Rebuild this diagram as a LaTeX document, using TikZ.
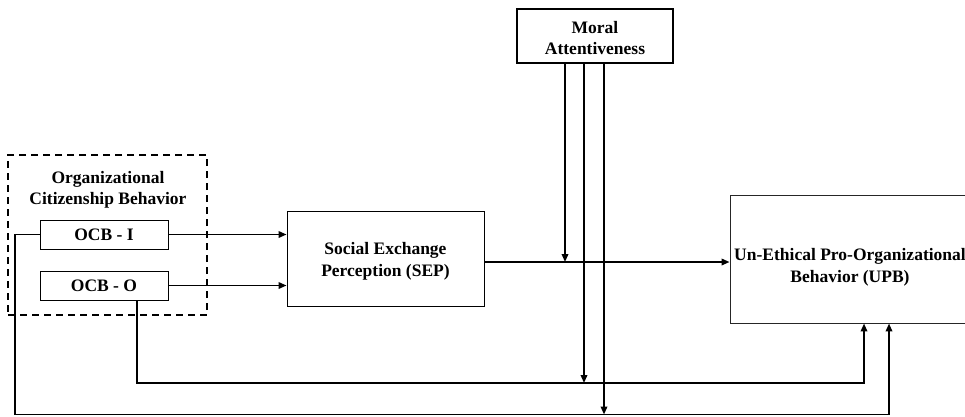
\documentclass[tikz,border=0pt]{standalone}
\usepackage{fontspec}
\setmainfont{Liberation Serif}
\usetikzlibrary{arrows.meta,calc}
\begin{document}
\begin{tikzpicture}[x=1pt,y=-1pt,
  every node/.style={font=\fontsize{17.5}{21}\selectfont\bfseries, inner sep=0pt, align=center},
  box/.style={draw=black, line width=0.9pt, rectangle},
  conn/.style={draw=black, line width=1.8pt, -{Triangle[length=8pt,width=6.5pt]}},
  dashbox/.style={draw=black, line width=1.7pt, dash pattern=on 7pt off 5pt, rectangle}]
\clip (0,0) rectangle (965,416);
\path[use as bounding box] (0,0) rectangle (965,416);
% boxes
\node[box, line width=1.5pt, minimum width=156pt, minimum height=54pt] (moral) at (595,36) {};
\node (moraltext) at (595,38.5) {Moral\\Attentiveness};
\node[dashbox, minimum width=199pt, minimum height=160pt] (ocb) at (107.5,235) {};
\node (ocbtitle) at (108,189.5) {Organizational\\Citizenship Behavior};
\node[box, minimum width=128pt, minimum height=29pt] (ocbi) at (104,234.5) {OCB - I};
\node[box, minimum width=128pt, minimum height=29pt] (ocbo) at (104,285.5) {OCB - O};
\node[box, minimum width=197pt, minimum height=95pt] (sep) at (385.5,258.5) {};
\node[font=\fontsize{17.5}{22}\selectfont\bfseries] (septext) at (385.5,261) {Social Exchange\\Perception (SEP)};
\node[box, draw=black!85, minimum width=240pt, minimum height=128pt] (upb) at (850,259) {};
\node[font=\fontsize{17.5}{22}\selectfont\bfseries] (upbtext) at (850,267) {Un-Ethical Pro-Organizational\\Behavior (UPB)};
% helper coordinates
\coordinate (sepline) at ([yshift=-3.5pt]sep.east);
\coordinate (lowA) at (0,383);
\coordinate (lowB) at (0,414.5);
\coordinate (leftx) at (15,0);
\coordinate (m1) at ([xshift=-30pt]moral.south);
\coordinate (m2) at ([xshift=-11pt]moral.south);
\coordinate (m3) at ([xshift=9pt]moral.south);
% connectors
\draw[conn] (ocbi.east) -- (ocbi.east -| sep.west);
\draw[conn] (ocbo.east) -- (ocbo.east -| sep.west);
\draw[conn] (sepline) -- (sepline -| upb.west);
\draw[conn] (m1) -- (m1 |- sepline);
\draw[conn] (m2) -- (m2 |- lowA);
\draw[conn] (m3) -- (m3 |- lowB);
\draw[conn] ([xshift=33pt]ocbo.south) |- ([xshift=14pt]upb.south |- lowA) -- ([xshift=14pt]upb.south);
\draw[conn] (ocbi.west) -| (leftx |- lowB) -| ([xshift=39pt]upb.south);
\end{tikzpicture}
\end{document}
